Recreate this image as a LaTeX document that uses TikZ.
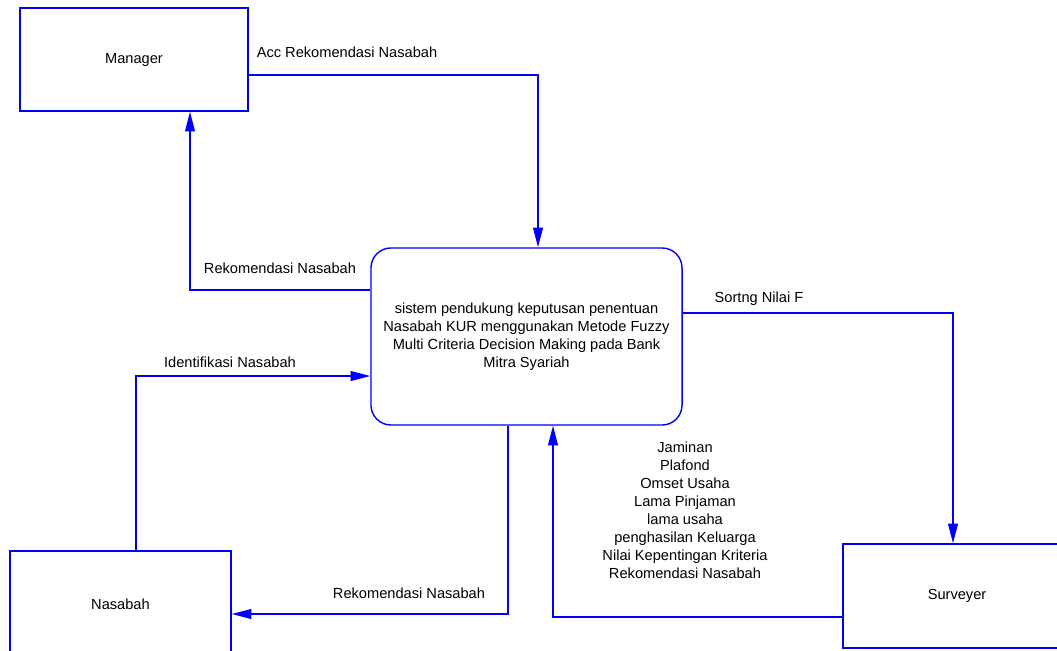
\documentclass[tikz,border=0pt]{standalone}
\usepackage{fontspec}
\setmainfont{Liberation Sans}
\usetikzlibrary{arrows.meta, positioning}

\newcommand{\fsz}{\fontsize{10.4}{12.8}\selectfont}

\begin{document}
\begin{tikzpicture}[
    x=0.025cm, y=-0.025cm,
    arr/.style={-{Triangle[length=14pt, width=7pt]}, draw=blue, line width=1pt},
    entity/.style={rectangle, draw=blue, line width=1pt, font=\fsz},
    proses/.style={rectangle, rounded corners=0.5cm, draw=blue, line width=1pt, align=center, font=\fsz},
    lbl/.style={align=center, font=\fsz, inner sep=0pt},
]
    \useasboundingbox (0,0) rectangle (1057,650);

    % entitas luar
    \node[entity, minimum width=5.7cm, minimum height=2.575cm] (manager) at (134,59.5) {Manager};
    \node[entity, minimum width=5.525cm, minimum height=2.675cm] (nasabah) at (120.5,604.5) {Nasabah};
    \node[entity, minimum width=5.7cm, minimum height=2.6cm] (surveyer) at (957,596) {Surveyer};

    % proses
    \node[proses, minimum width=7.775cm, minimum height=4.425cm] (spk) at (526.5,336.5)
        {sistem pendukung keputusan penentuan\\Nasabah KUR menggunakan Metode Fuzzy\\Multi Criteria Decision Making pada Bank\\Mitra Syariah};

    % aliran data
    \draw[arr] ([yshift=-0.3875cm]manager.east) -| ([xshift=0.2875cm]spk.north);
    \draw[arr] ([yshift=1.1625cm]spk.west) -| ([xshift=1.4cm]manager.south);
    \draw[arr] ([xshift=0.3875cm]nasabah.north) |- ([yshift=-0.9875cm]spk.west);
    \draw[arr] ([xshift=-0.4625cm]spk.south) |- ([yshift=-0.2375cm]nasabah.east);
    \draw[arr] ([yshift=0.5875cm]spk.east) -| ([xshift=-0.1cm]surveyer.north);
    \draw[arr] ([yshift=-0.525cm]surveyer.west) -| ([xshift=0.6625cm]spk.south);

    % label aliran
    \node[lbl] (lAcc) at (347,52) {Acc Rekomendasi Nasabah};
    \node[lbl] (lRek1) at (280,268) {Rekomendasi Nasabah};
    \node[lbl] (lIdent) at (230,362) {Identifikasi Nasabah};
    \node[lbl] (lRek2) at (409,593) {Rekomendasi Nasabah};
    \node[lbl] (lSort) at (759,299) {Sortng Nilai F};
    \node[lbl] (lData) at (685,510.5) {Jaminan\\Plafond\\Omset Usaha\\Lama Pinjaman\\lama usaha\\penghasilan Keluarga\\Nilai Kepentingan Kriteria\\Rekomendasi Nasabah};

\end{tikzpicture}
\end{document}
